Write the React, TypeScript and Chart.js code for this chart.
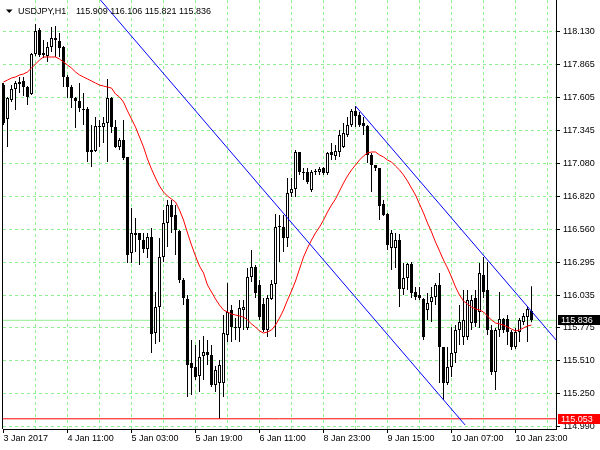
import React, { useEffect, useRef } from 'react';
import { Chart, registerables } from 'chart.js';

Chart.register(...registerables);

const symbolLabel = 'USDJPY,H1';
const timeLabels = ['3 Jan 2017', '4 Jan 11:00', '5 Jan 03:00', '5 Jan 19:00', '6 Jan 11:00', '8 Jan 23:00', '9 Jan 15:00', '10 Jan 07:00', '10 Jan 23:00'];
const priceTickLabels = ['118.130', '117.865', '117.605', '117.345', '117.080', '116.820', '116.560', '116.295', '116.035', '115.775', '115.510', '115.250', '114.990'];

const opens = [
  117.706, 117.436, 117.587, 117.675, 117.730, 117.738, 117.690, 117.635, 117.953, 118.144,
  117.945, 117.937, 118.009, 118.080, 118.056, 118.009, 117.770, 117.690, 117.603, 117.579,
  117.515, 117.515, 117.190, 117.182, 117.380, 117.372, 117.404, 117.603, 117.372, 117.214,
  117.269, 117.134, 116.371, 116.530, 116.530, 116.474, 116.403, 116.498, 115.735, 115.942,
  116.339, 116.609, 116.752, 116.673, 116.546, 116.156, 116.005, 115.496, 115.465, 115.393,
  115.552, 115.584, 115.560, 115.321, 115.337, 115.337, 115.719, 115.918, 115.783, 115.775,
  115.918, 115.775, 116.180, 116.259, 116.116, 115.966, 115.759, 116.005, 116.124, 116.585,
  116.577, 116.490, 116.848, 116.880, 117.174, 117.015, 117.015, 116.872, 117.023, 117.015,
  117.046, 117.007, 117.174, 117.142, 117.174, 117.214, 117.309, 117.388, 117.500, 117.468,
  117.404, 117.380, 117.150, 117.070, 117.046, 116.760, 116.681, 116.411, 116.411, 116.474,
  116.085, 116.172, 116.283, 116.061, 116.037, 116.005, 115.918, 115.981, 116.021, 116.116,
  115.624, 115.337, 115.465, 115.576, 115.759, 115.703, 115.703, 115.815, 116.013, 115.902,
  116.196, 116.077, 115.759, 115.425, 115.759, 115.846, 115.846, 115.743, 115.624, 115.743,
  115.822, 115.862, 115.909,
];
const highs = [
  117.722, 117.611, 117.706, 117.738, 117.770, 117.770, 117.698, 117.961, 118.191, 118.160,
  118.064, 118.048, 118.167, 118.175, 118.120, 118.017, 117.786, 117.706, 117.611, 117.722,
  117.643, 117.531, 117.388, 117.452, 117.428, 117.452, 117.754, 117.611, 117.428, 117.285,
  117.428, 117.134, 116.728, 116.649, 116.530, 116.530, 116.530, 116.570, 116.061, 116.490,
  116.713, 116.792, 116.792, 116.752, 116.554, 116.172, 116.037, 115.679, 115.639, 115.679,
  115.711, 115.679, 115.639, 115.473, 115.520, 115.878, 116.132, 115.957, 115.854, 115.997,
  115.997, 116.252, 116.395, 116.275, 116.156, 116.013, 116.037, 116.156, 116.681, 116.673,
  116.673, 116.967, 116.967, 117.190, 117.174, 117.046, 117.046, 117.031, 117.039, 117.054,
  117.054, 117.174, 117.245, 117.229, 117.349, 117.404, 117.452, 117.515, 117.539, 117.492,
  117.452, 117.388, 117.166, 117.070, 117.046, 116.792, 116.689, 116.554, 116.530, 116.522,
  116.291, 116.291, 116.299, 116.101, 116.101, 116.013, 116.053, 116.101, 116.132, 116.212,
  115.624, 115.624, 115.783, 115.798, 115.957, 116.077, 116.077, 116.037, 116.077, 116.291,
  116.339, 116.299, 115.798, 115.775, 116.061, 115.854, 115.878, 115.759, 115.775, 115.854,
  115.894, 115.949, 116.106,
];
const lows = [
  117.388, 117.214, 117.571, 117.508, 117.643, 117.619, 117.547, 117.627, 117.937, 117.929,
  117.921, 117.889, 117.969, 117.929, 117.929, 117.690, 117.603, 117.523, 117.364, 117.492,
  117.388, 117.094, 117.054, 117.174, 117.214, 117.245, 117.094, 117.325, 117.206, 117.190,
  117.110, 116.291, 116.291, 116.379, 116.275, 116.371, 116.331, 115.576, 115.647, 115.663,
  116.299, 116.419, 116.530, 116.355, 116.132, 115.957, 115.226, 115.242, 115.361, 115.266,
  115.361, 115.480, 115.305, 115.266, 115.053, 115.226, 115.663, 115.663, 115.679, 115.663,
  115.759, 115.759, 116.140, 116.013, 115.838, 115.743, 115.703, 115.997, 115.703, 116.299,
  116.379, 116.419, 116.816, 116.816, 116.991, 116.951, 116.919, 116.856, 116.991, 116.991,
  116.991, 116.991, 117.110, 117.110, 117.134, 117.206, 117.293, 117.372, 117.372, 117.372,
  117.309, 117.086, 116.856, 117.023, 116.633, 116.665, 116.395, 116.236, 116.252, 115.942,
  116.037, 116.077, 116.013, 115.997, 115.997, 115.679, 115.838, 115.822, 115.957, 115.337,
  115.202, 115.321, 115.385, 115.496, 115.639, 115.639, 115.679, 115.759, 115.783, 115.775,
  116.013, 115.719, 115.401, 115.282, 115.703, 115.735, 115.639, 115.600, 115.608, 115.663,
  115.798, 115.663, 115.821,
];
const closes = [
  117.404, 117.603, 117.675, 117.722, 117.714, 117.690, 117.611, 117.953, 118.136, 117.945,
  117.961, 118.009, 118.080, 118.064, 118.001, 117.770, 117.690, 117.603, 117.579, 117.523,
  117.508, 117.174, 117.174, 117.380, 117.372, 117.404, 117.603, 117.372, 117.214, 117.269,
  117.126, 116.355, 116.530, 116.514, 116.474, 116.403, 116.498, 115.727, 115.942, 116.339,
  116.609, 116.752, 116.657, 116.554, 116.156, 116.013, 115.480, 115.457, 115.385, 115.544,
  115.584, 115.560, 115.321, 115.441, 115.480, 115.735, 115.902, 115.783, 115.775, 115.934,
  115.942, 116.180, 116.259, 116.053, 115.862, 115.759, 116.013, 116.124, 116.577, 116.577,
  116.490, 116.848, 116.880, 117.174, 117.015, 117.007, 116.935, 117.015, 117.015, 117.039,
  117.007, 117.166, 117.150, 117.182, 117.309, 117.325, 117.388, 117.500, 117.460, 117.388,
  117.380, 117.150, 117.070, 117.046, 116.744, 116.673, 116.434, 116.530, 116.474, 116.085,
  116.172, 116.283, 116.053, 116.021, 116.013, 115.703, 115.973, 116.021, 116.116, 115.624,
  115.337, 115.465, 115.576, 115.759, 115.822, 115.838, 115.997, 115.997, 115.815, 116.212,
  116.061, 115.759, 115.425, 115.759, 115.846, 115.759, 115.743, 115.624, 115.743, 115.838,
  115.870, 115.926, 115.836,
];
const maValues = [
  117.730, 117.746, 117.762, 117.770, 117.786, 117.794, 117.810, 117.841, 117.873, 117.905,
  117.929, 117.929, 117.929, 117.929, 117.913, 117.889, 117.865, 117.841, 117.810, 117.786,
  117.770, 117.754, 117.738, 117.722, 117.706, 117.698, 117.690, 117.682, 117.635, 117.611,
  117.571, 117.500, 117.436, 117.372, 117.293, 117.214, 117.118, 117.038, 116.967, 116.903,
  116.856, 116.824, 116.800, 116.776, 116.713, 116.633, 116.530, 116.434, 116.347, 116.267,
  116.212, 116.116, 116.061, 116.005, 115.957, 115.918, 115.902, 115.886, 115.878, 115.870,
  115.862, 115.838, 115.807, 115.783, 115.751, 115.735, 115.743, 115.759, 115.798, 115.854,
  115.918, 115.997, 116.069, 116.148, 116.244, 116.339, 116.411, 116.474, 116.530, 116.577,
  116.633, 116.697, 116.752, 116.800, 116.864, 116.927, 116.983, 117.031, 117.070, 117.110,
  117.142, 117.166, 117.174, 117.174, 117.150, 117.134, 117.110, 117.094, 117.062, 117.031,
  116.991, 116.943, 116.887, 116.832, 116.760, 116.689, 116.609, 116.538, 116.458, 116.387,
  116.315, 116.252, 116.180, 116.101, 116.037, 115.989, 115.965, 115.942, 115.926, 115.918,
  115.902, 115.870, 115.838, 115.815, 115.807, 115.798, 115.783, 115.767, 115.751, 115.759,
  115.775, 115.791, 115.798,
];
const upperTrendBars = [20, 115.4];
const upperTrendPrices = [118.539, 115.004];
const lowerTrendBars = [88, 140];
const lowerTrendPrices = [117.539, 115.611];
const bidPrice = 115.836;
const supportPrice = 115.053;

const GRID = '#90ee90';
const FONT = 'Liberation Sans';

export default function App() {
  const canvasRef = useRef<HTMLCanvasElement | null>(null);

  useEffect(() => {
    const canvas = canvasRef.current;
    if (!canvas) return;
    const idx = opens.map((_, i) => i);
    const xMin = -0.125;
    const xMax = 138.125;
    const yTop = parseFloat(priceTickLabels[0]);
    const yBot = parseFloat(priceTickLabels[priceTickLabels.length - 1]);
    const step = (yTop - yBot) / (priceTickLabels.length - 1);
    const yTickValues = priceTickLabels.map((_, i) => yTop - i * step);
    const xTickValues: number[] = [];
    for (let v = 0; v <= 136; v += 8) xTickValues.push(v);
    const last = opens.length - 1;

    const decor = {
      id: 'mt4decor',
      afterDraw(chart: any) {
        const { ctx, chartArea, scales } = chart;
        const ys = scales.y;
        ctx.save();
        ctx.strokeStyle = '#000';
        ctx.lineWidth = 1;
        ctx.beginPath();
        ctx.moveTo(chartArea.left - 0.5, Math.round(ys.getPixelForValue(highs[0])));
        ctx.lineTo(chartArea.left - 0.5, chartArea.bottom);
        ctx.stroke();
        const box = (price: number, color: string) => {
          const py = Math.round(ys.getPixelForValue(price));
          ctx.fillStyle = color;
          ctx.fillRect(chartArea.right + 2, py - 5, 42, 10);
          ctx.fillStyle = '#ffffff';
          ctx.font = `9px ${FONT}`;
          ctx.textBaseline = 'middle';
          ctx.textAlign = 'left';
          ctx.fillText(price.toFixed(3), chartArea.right + 5, py + 0.5);
        };
        box(bidPrice, '#000000');
        box(supportPrice, '#ff0000');
        ctx.fillStyle = '#000';
        ctx.beginPath();
        ctx.moveTo(6, 9.5);
        ctx.lineTo(12.5, 9.5);
        ctx.lineTo(9.25, 13);
        ctx.closePath();
        ctx.fill();
        ctx.font = `9px ${FONT}`;
        ctx.textBaseline = 'alphabetic';
        ctx.textAlign = 'left';
        ctx.fillText(symbolLabel, 18, 14);
        const ohlc = [opens[last], highs[last], lows[last], closes[last]].map((v) => v.toFixed(3)).join(' ');
        ctx.fillText(ohlc, 76, 14);
        ctx.restore();
      },
    };

    const chart = new Chart(canvas, {
      type: 'bar',
      data: {
        datasets: [
          {
            type: 'line', label: 'upper trend',
            data: upperTrendBars.map((b, i) => ({ x: b, y: upperTrendPrices[i] })),
            borderColor: '#0000ff', borderWidth: 1, pointRadius: 0, tension: 0, order: 0,
          } as any,
          {
            type: 'line', label: 'lower trend',
            data: lowerTrendBars.map((b, i) => ({ x: b, y: lowerTrendPrices[i] })),
            borderColor: '#0000ff', borderWidth: 1, pointRadius: 0, tension: 0, order: 0,
          } as any,
          {
            type: 'line', label: 'MA',
            data: maValues.map((v, i) => ({ x: i, y: v })),
            borderColor: '#ff0000', borderWidth: 1, pointRadius: 0, tension: 0, order: 0,
          } as any,
          {
            type: 'line', label: 'support',
            data: [{ x: xMin, y: supportPrice }, { x: xMax, y: supportPrice }],
            borderColor: '#ff0000', borderWidth: 1, pointRadius: 0, order: 0,
          } as any,
          {
            type: 'bar', label: 'body',
            data: idx.map((i) => ({ x: i, y: [opens[i], closes[i]] })),
            backgroundColor: idx.map((i) => (closes[i] >= opens[i] ? '#ffffff' : '#000000')),
            borderColor: '#000000', borderWidth: 1, borderSkipped: false,
            barThickness: 3, grouped: false, minBarLength: 1, inflateAmount: 0, order: 1,
          } as any,
          {
            type: 'bar', label: 'wick',
            data: idx.map((i) => ({ x: i, y: [lows[i], highs[i]] })),
            backgroundColor: '#000000', borderWidth: 0, borderSkipped: false,
            barThickness: 1, grouped: false, minBarLength: 1, inflateAmount: 0, order: 2,
          } as any,
          {
            type: 'line', label: 'bid',
            data: [{ x: xMin, y: bidPrice }, { x: xMax, y: bidPrice }],
            borderColor: GRID, borderWidth: 1, pointRadius: 0, order: 3,
          } as any,
        ],
      },
      options: {
        responsive: false,
        maintainAspectRatio: false,
        animation: false,
        devicePixelRatio: 1,
        events: [],
        layout: { padding: { left: 3, top: 0, right: 0, bottom: 0 }, autoPadding: false } as any,
        plugins: { legend: { display: false }, tooltip: { enabled: false }, title: { display: false } },
        scales: {
          x: {
            type: 'linear', min: xMin, max: xMax, offset: false, bounds: 'data',
            grid: {
              offset: false,
              lineWidth: 1,
              color: (c: any) => (c.tick && c.tick.value === 0 ? 'rgba(0,0,0,0)' : GRID),
              tickColor: (c: any) => (c.tick && c.tick.value % 16 === 0 ? '#000000' : 'rgba(0,0,0,0)'),
              tickLength: 4,
              drawTicks: true,
            },
            border: { display: true, color: '#000000', width: 1, dash: [3, 3] },
            ticks: {
              autoSkip: false, maxRotation: 0, minRotation: 0, align: 'start', padding: 0,
              color: '#000000', font: { family: FONT, size: 9 },
              callback: (v: any) => (Number(v) % 16 === 0 ? timeLabels[Number(v) / 16] ?? '' : ''),
            },
            afterBuildTicks: (s: any) => { s.ticks = xTickValues.map((v) => ({ value: v })); },
            afterFit: (s: any) => { s.height = 21; s.paddingLeft = 0; s.paddingRight = 0; },
          } as any,
          y: {
            type: 'linear', position: 'right', min: 114.972, max: 118.382, beginAtZero: false, bounds: 'data',
            grid: { color: GRID, lineWidth: 1, tickColor: '#000000', tickLength: 4 },
            border: { display: true, color: '#000000', width: 1, dash: [3, 3] },
            ticks: {
              padding: 3, color: '#000000', font: { family: FONT, size: 9 },
              callback: (_v: any, i: number) => priceTickLabels[i] ?? '',
            },
            afterBuildTicks: (s: any) => { s.ticks = yTickValues.map((v) => ({ value: v })); },
            afterFit: (s: any) => { s.width = 44; s.paddingTop = 0; s.paddingBottom = 0; },
          } as any,
        },
      } as any,
      plugins: [decor as any],
    });
    return () => chart.destroy();
  }, []);

  return (
    <div style={{ position: 'absolute', left: 0, top: 0, width: 600, height: 450, background: '#ffffff' }}>
      <canvas ref={canvasRef} width={600} height={450} style={{ display: 'block', width: 600, height: 450 }} />
    </div>
  );
}
